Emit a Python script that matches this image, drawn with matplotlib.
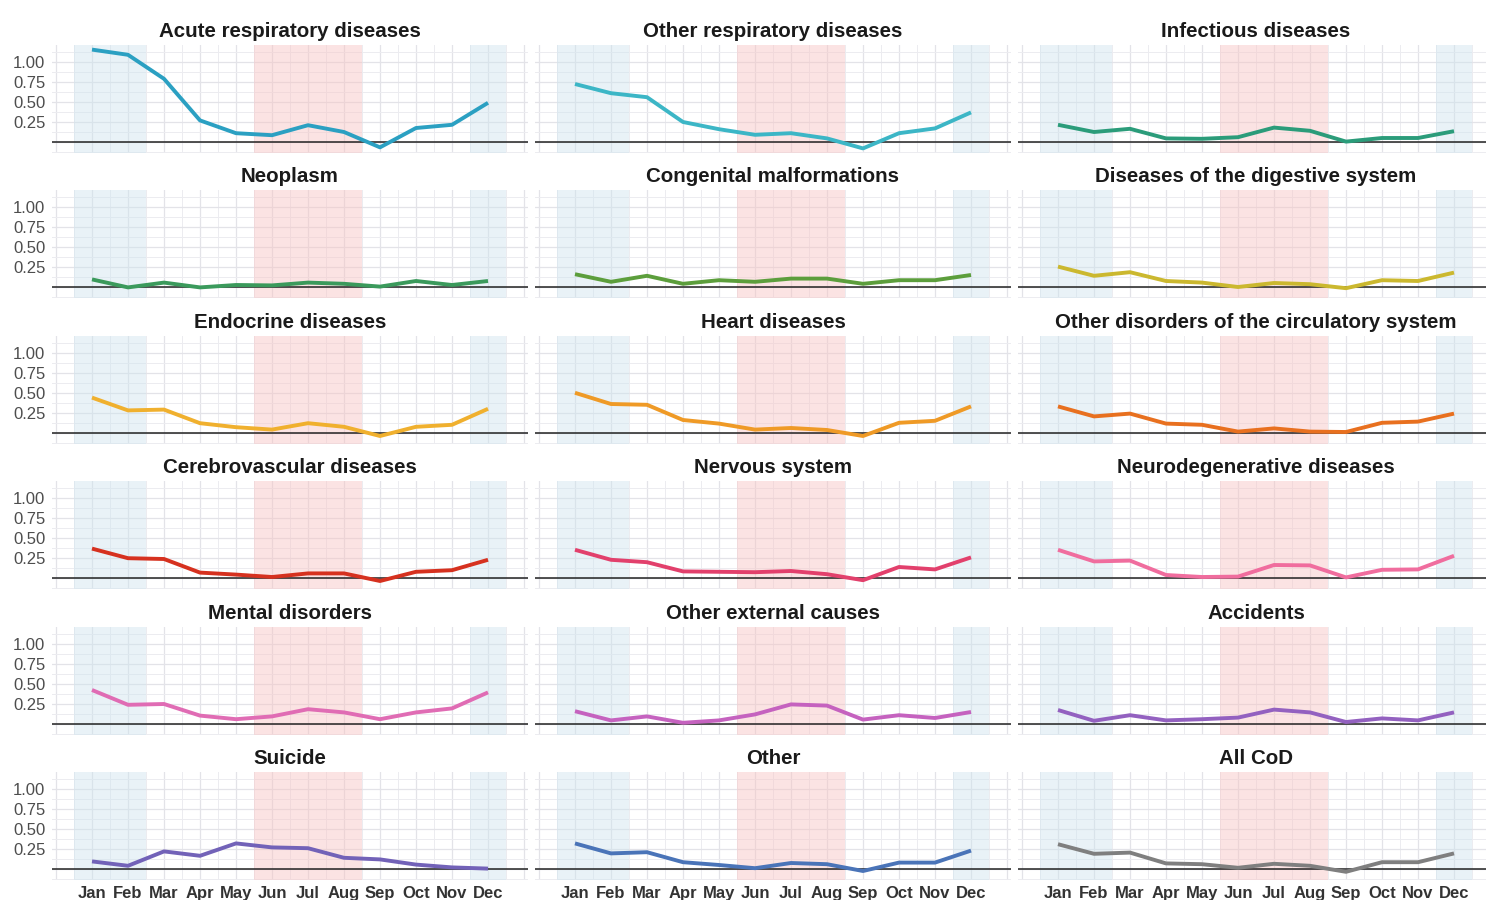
import matplotlib
matplotlib.use("Agg")
import matplotlib.pyplot as plt
import numpy as np

plt.rcParams['font.family'] = ['Liberation Sans', 'DejaVu Sans']

months = ["Jan", "Feb", "Mar", "Apr", "May", "Jun", "Jul", "Aug", "Sep", "Oct", "Nov", "Dec"]
month_idx = list(range(1, 13))

titles = [
    "Acute respiratory diseases", "Other respiratory diseases", "Infectious diseases",
    "Neoplasm", "Congenital malformations", "Diseases of the digestive system",
    "Endocrine diseases", "Heart diseases", "Other disorders of the circulatory system",
    "Cerebrovascular diseases", "Nervous system", "Neurodegenerative diseases",
    "Mental disorders", "Other external causes", "Accidents",
    "Suicide", "Other", "All CoD",
]

acute_resp = [1.155, 1.09, 0.79, 0.27, 0.11, 0.085, 0.21, 0.125, -0.067, 0.175, 0.215, 0.49]
other_resp = [0.725, 0.61, 0.56, 0.25, 0.16, 0.09, 0.11, 0.045, -0.08, 0.11, 0.17, 0.37]
infectious = [0.215, 0.125, 0.165, 0.045, 0.04, 0.06, 0.18, 0.14, 0.005, 0.05, 0.05, 0.135]
neoplasm = [0.10, 0.0, 0.06, 0.0, 0.03, 0.025, 0.06, 0.045, 0.01, 0.08, 0.03, 0.08]
congenital = [0.165, 0.07, 0.145, 0.045, 0.09, 0.07, 0.11, 0.11, 0.045, 0.09, 0.09, 0.155]
digestive = [0.26, 0.145, 0.19, 0.08, 0.06, 0.005, 0.055, 0.04, -0.01, 0.09, 0.08, 0.185]
endocrine = [0.44, 0.28, 0.29, 0.12, 0.07, 0.04, 0.12, 0.075, -0.04, 0.075, 0.10, 0.30]
heart = [0.50, 0.36, 0.35, 0.16, 0.115, 0.04, 0.06, 0.035, -0.04, 0.125, 0.15, 0.33]
other_circ = [0.33, 0.205, 0.24, 0.115, 0.10, 0.015, 0.055, 0.015, 0.01, 0.125, 0.14, 0.24]
cerebro = [0.37, 0.25, 0.24, 0.07, 0.045, 0.015, 0.06, 0.06, -0.035, 0.08, 0.10, 0.23]
nervous = [0.355, 0.23, 0.20, 0.085, 0.08, 0.075, 0.09, 0.05, -0.025, 0.14, 0.11, 0.26]
neurodeg = [0.355, 0.21, 0.22, 0.04, 0.015, 0.02, 0.165, 0.16, 0.01, 0.105, 0.11, 0.28]
mental = [0.42, 0.235, 0.245, 0.10, 0.055, 0.09, 0.18, 0.14, 0.055, 0.14, 0.19, 0.39]
other_ext = [0.155, 0.04, 0.09, 0.01, 0.04, 0.115, 0.24, 0.225, 0.05, 0.105, 0.07, 0.145]
accidents = [0.17, 0.035, 0.105, 0.04, 0.055, 0.075, 0.175, 0.14, 0.02, 0.065, 0.04, 0.14]
suicide = [0.095, 0.04, 0.22, 0.165, 0.32, 0.27, 0.26, 0.14, 0.12, 0.055, 0.02, 0.005]
other = [0.32, 0.195, 0.21, 0.085, 0.05, 0.01, 0.075, 0.06, -0.025, 0.08, 0.08, 0.23]
all_cod = [0.31, 0.19, 0.205, 0.07, 0.06, 0.015, 0.065, 0.04, -0.035, 0.085, 0.085, 0.195]

series = [acute_resp, other_resp, infectious, neoplasm, congenital, digestive,
          endocrine, heart, other_circ, cerebro, nervous, neurodeg,
          mental, other_ext, accidents, suicide, other, all_cod]

colors = ["#2ba0c2", "#3cb6c6", "#2b9c7a", "#3b9a5c", "#5c9e3c", "#cbb82f",
          "#f0b02e", "#ef9a26", "#e8701f", "#d6311f", "#e2406c", "#f06d9e",
          "#e06cb4", "#c562bf", "#9361c0", "#7262b8", "#4a74b8", "#7f7f7f"]

winter_spans = [(0.5, 2.5), (11.5, 12.5)]
summer_spans = [(5.5, 8.5)]

W, H = 1486, 900
fig = plt.figure(figsize=(W / 100, H / 100), dpi=100)
fig.patch.set_facecolor("white")

px_month = 36.0
xlim = (-0.1, 13.1)
ylim = (-0.1375, 1.2125)
pw = (xlim[1] - xlim[0]) * px_month
ph = 108.0

for i, (title, vals, col) in enumerate(zip(titles, series, colors)):
    r, c = divmod(i, 3)
    left = 52.4 + 483 * c
    top = 45 + 145.4 * r
    ax = fig.add_axes([left / W, 1 - (top + ph) / H, pw / W, ph / H])
    ax.set_xlim(*xlim)
    ax.set_ylim(*ylim)
    for s in ax.spines.values():
        s.set_visible(False)
    ax.set_facecolor("white")
    # grid
    ax.set_xticks(np.arange(0, 14))
    ax.set_xticks(np.arange(0.5, 13.5, 1), minor=True)
    ax.set_yticks([0, 0.25, 0.5, 0.75, 1.0])
    ax.set_yticks([-0.125, 0.125, 0.375, 0.625, 0.875, 1.125], minor=True)
    ax.grid(True, which="major", color="#e3e3e8", lw=0.9, zorder=0)
    ax.grid(True, which="minor", color="#ececf0", lw=0.7, zorder=0)
    ax.set_axisbelow(True)
    for a, b in winter_spans:
        ax.axvspan(a, b, facecolor="#cfe4ee", alpha=0.45, lw=0, zorder=1)
    for a, b in summer_spans:
        ax.axvspan(a, b, facecolor="#f8c2c2", alpha=0.45, lw=0, zorder=1)
    ax.axhline(0, color="#222222", lw=1.1, zorder=2)
    ax.plot(month_idx, vals, color=col, lw=2.8, solid_joinstyle="round",
            solid_capstyle="butt", zorder=3)
    ax.tick_params(which="both", length=0)
    # y labels
    ylbl = ["", "0.25", "0.50", "0.75", "1.00"]
    if c == 0:
        ax.set_yticklabels(ylbl, fontsize=12, color="#4d4d4d")
        ax.tick_params(axis="y", pad=5)
    else:
        ax.set_yticklabels([])
    if r == 5:
        ax.set_xticklabels([""] + months + [""], fontsize=12, color="#333333",
                           fontweight="bold")
        ax.tick_params(axis="x", pad=4.5)
    else:
        ax.set_xticklabels([])
    cx = left + (1.1 + 5.5) * px_month
    fig.text(cx / W, 1 - (top - 13.5) / H, title, ha="center", va="center",
             fontsize=14.8, fontweight="bold", color="#1a1a1a")

fig.savefig("out.png", dpi=100, facecolor="white")
